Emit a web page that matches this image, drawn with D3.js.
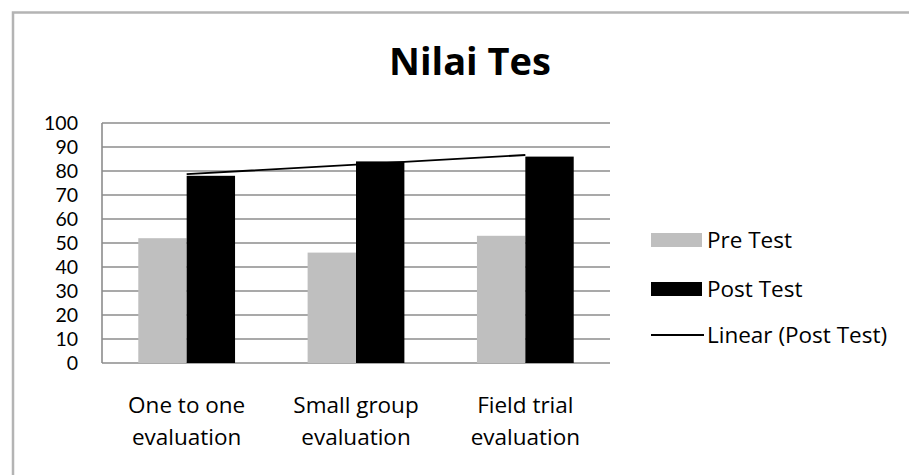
<!DOCTYPE html>
<html><head><meta charset="utf-8">
<script src="https://cdn.jsdelivr.net/npm/d3@7"></script>
<style>html,body{margin:0;padding:0;background:#fff;}svg{display:block;}</style>
</head><body>
<script>
const title = "Nilai Tes";
const categories = [["One to one","evaluation"],["Small group","evaluation"],["Field trial","evaluation"]];
const preTest = [52, 46, 53];
const postTest = [78, 84, 86];
const yTicks = [0,10,20,30,40,50,60,70,80,90,100];
const seriesNames = ["Pre Test","Post Test","Linear (Post Test)"];

(function(){
const W = 909, H = 475;
const svg = d3.select("body").append("svg").attr("width", W).attr("height", H);
const font = "'Open Sans', Calibri, sans-serif";

// outer frame (top & left)
svg.append("path").attr("d", "M13,475 L13,12.5 L909,12.5").attr("fill","none").attr("stroke","#b4b4b4").attr("stroke-width",2.5);

svg.append("text").attr("x", 470).attr("y", 75).attr("text-anchor","middle")
  .attr("font-family", font).attr("font-weight","bold").attr("font-size", 38).attr("fill","#000").text(title);

const pL = 102, pR = 610, pT = 123, pB = 363;
const x = d3.scaleBand().domain(d3.range(categories.length)).range([pL, pR]).paddingInner(0).paddingOuter(0);
const y = d3.scaleLinear().domain([0, 100]).range([pB, pT]);

// gridlines
svg.append("g").selectAll("line").data(yTicks).join("line")
  .attr("x1", pL).attr("x2", pR).attr("y1", d => y(d)).attr("y2", d => y(d))
  .attr("stroke", "#8c8c8c").attr("stroke-width", 1.6);
// y axis line
svg.append("line").attr("x1", pL).attr("x2", pL).attr("y1", pT).attr("y2", pB)
  .attr("stroke", "#8c8c8c").attr("stroke-width", 1.6);

// y labels
svg.append("g").selectAll("text").data(yTicks).join("text")
  .attr("x", 78).attr("y", d => y(d)).attr("dy", "0.36em").attr("text-anchor","end")
  .attr("font-family", "Lato, 'Open Sans', sans-serif").attr("font-size", 19.5).attr("fill","#000").text(d => d);

const bw = x.bandwidth() / 3.5;
const g = svg.append("g");
g.selectAll("rect.pre").data(preTest).join("rect").attr("class","pre")
  .attr("x", (d,i) => x(i) + x.bandwidth()/2 - bw).attr("width", bw)
  .attr("y", d => y(d)).attr("height", d => y(0) - y(d)).attr("fill", "#bfbfbf");
g.selectAll("rect.post").data(postTest).join("rect").attr("class","post")
  .attr("x", (d,i) => x(i) + x.bandwidth()/2).attr("width", bw)
  .attr("y", d => y(d)).attr("height", d => y(0) - y(d)).attr("fill", "#000");

// linear trendline (least squares) for post test
const n = postTest.length;
const xs = d3.range(1, n+1);
const mx = d3.mean(xs), my = d3.mean(postTest);
const slope = d3.sum(xs, (v,i) => (v-mx)*(postTest[i]-my)) / d3.sum(xs, v => (v-mx)*(v-mx));
const intercept = my - slope*mx;
const trend = xs.map(v => intercept + slope*v);
svg.append("path").datum(trend)
  .attr("d", d3.line().x((d,i) => x(i) + x.bandwidth()/2).y(d => y(d)))
  .attr("fill","none").attr("stroke","#000").attr("stroke-width",1.8);

// category labels
const cl = svg.append("g").selectAll("text").data(categories).join("text")
  .attr("x", (d,i) => x(i) + x.bandwidth()/2).attr("y", 413).attr("text-anchor","middle")
  .attr("font-family", font).attr("font-size", 22.5).attr("fill","#000");
cl.each(function(d, i){
  const t = d3.select(this);
  d.forEach((line, j) => {
    t.append("tspan").attr("x", x(i) + x.bandwidth()/2).attr("dy", j === 0 ? 0 : 32).text(line);
  });
});

// legend
const lg = svg.append("g");
const ly = [240, 289, 335];
lg.append("rect").attr("x", 651).attr("y", 233).attr("width", 51).attr("height", 14).attr("fill", "#bfbfbf");
lg.append("rect").attr("x", 651).attr("y", 282).attr("width", 51).attr("height", 14).attr("fill", "#000");
lg.append("line").attr("x1", 651).attr("x2", 704).attr("y1", 335).attr("y2", 335).attr("stroke","#000").attr("stroke-width",1.8);
lg.selectAll("text").data(seriesNames).join("text")
  .attr("x", 707).attr("y", (d,i) => ly[i]).attr("dy","0.35em")
  .attr("font-family", font).attr("font-size", 22.5).attr("fill","#000").text(d => d);
})();
</script>
</body></html>
